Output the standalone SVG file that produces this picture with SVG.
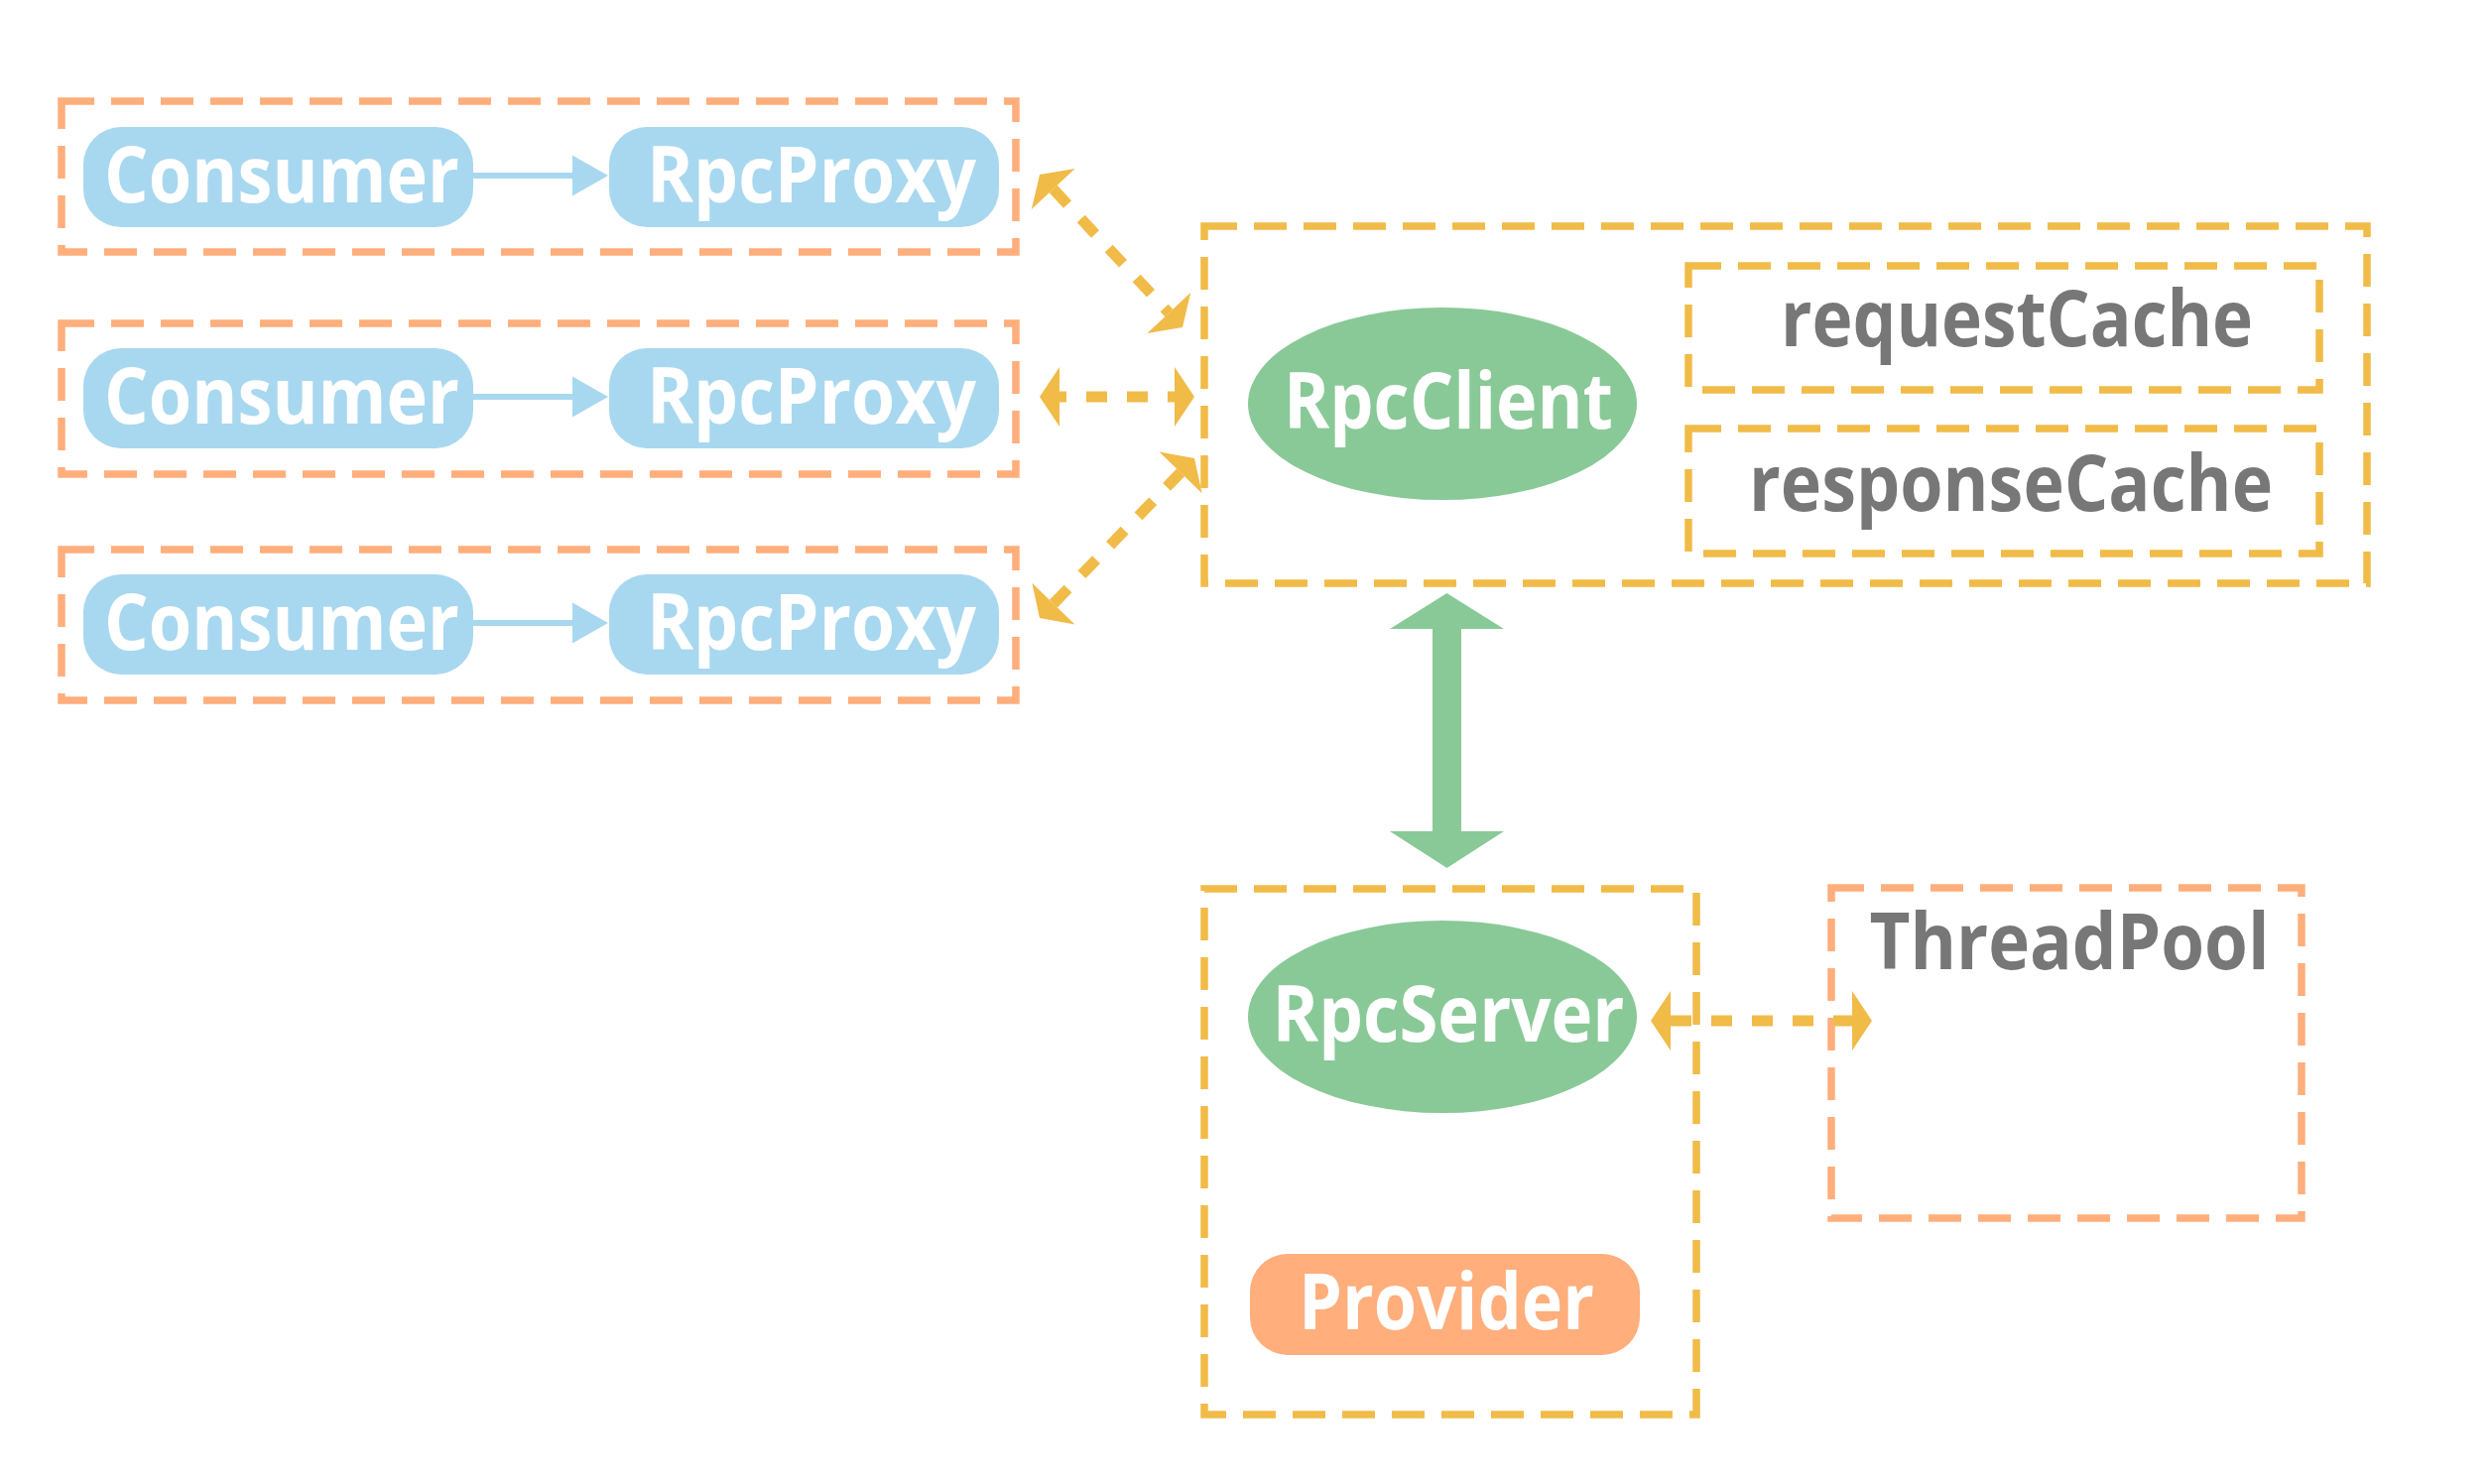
<svg xmlns="http://www.w3.org/2000/svg" width="2512" height="1496" viewBox="0 0 2512 1496">
<defs>
<style>
.lbl{font-family:"Open Sans","Noto Sans","Liberation Sans",sans-serif;font-weight:700;font-size:78px;text-anchor:middle}
.w{fill:#ffffff}
.g{fill:#777777}
.obox{fill:none;stroke:#ffae7c;stroke-width:7.5;stroke-dasharray:33 17}
.ybox{fill:none;stroke:#f1bb48;stroke-width:7.5;stroke-dasharray:33 17}
.pill{fill:#a8d8ef}
.ylink{fill:none;stroke:#f1bb48;stroke-width:11;stroke-dasharray:21 20;marker-start:url(#yh);marker-end:url(#yh)}
.blink{fill:none;stroke:#a8d8ef;stroke-width:6;marker-end:url(#bh)}
</style>
<marker id="yh" markerUnits="userSpaceOnUse" markerWidth="24" markerHeight="64" viewBox="0 -32 22 64" refX="0" refY="0" orient="auto-start-reverse">
<path d="M0,-30 L20,0 L0,30 Z" fill="#f1bb48"/>
</marker>
<marker id="bh" markerUnits="userSpaceOnUse" markerWidth="40" markerHeight="44" viewBox="0 -22 38 44" refX="0" refY="0" orient="auto">
<path d="M0,-20.5 L36,0 L0,20.5 Z" fill="#a8d8ef"/>
</marker>
</defs>
<rect width="2512" height="1496" fill="#ffffff"/>

<g id="consumer-group-1">
<rect class="obox" x="62" y="102" width="962" height="152"/>
<g id="consumer-1"><rect class="pill" x="84" y="128" width="393" height="101" rx="38"/><text class="lbl w" x="284" y="204" textLength="358" lengthAdjust="spacingAndGlyphs">Consumer</text></g>
<g id="rpcproxy-1"><rect class="pill" x="614" y="128" width="393" height="101" rx="38"/><text class="lbl w" x="818" y="204" textLength="332" lengthAdjust="spacingAndGlyphs">RpcProxy</text></g>
</g>
<g id="consumer-group-2">
<rect class="obox" x="62" y="326" width="962" height="152"/>
<g id="consumer-2"><rect class="pill" x="84" y="351" width="393" height="101" rx="38"/><text class="lbl w" x="284" y="427" textLength="358" lengthAdjust="spacingAndGlyphs">Consumer</text></g>
<g id="rpcproxy-2"><rect class="pill" x="614" y="351" width="393" height="101" rx="38"/><text class="lbl w" x="818" y="427" textLength="332" lengthAdjust="spacingAndGlyphs">RpcProxy</text></g>
</g>
<g id="consumer-group-3">
<rect class="obox" x="62" y="554" width="962" height="152"/>
<g id="consumer-3"><rect class="pill" x="84" y="579" width="393" height="101" rx="38"/><text class="lbl w" x="284" y="655" textLength="358" lengthAdjust="spacingAndGlyphs">Consumer</text></g>
<g id="rpcproxy-3"><rect class="pill" x="614" y="579" width="393" height="101" rx="38"/><text class="lbl w" x="818" y="655" textLength="332" lengthAdjust="spacingAndGlyphs">RpcProxy</text></g>
</g>

<g id="rpcclient-group">
<rect class="ybox" x="1214" y="228" width="1172" height="360"/>
<g id="rpcclient"><ellipse cx="1454" cy="407" rx="196" ry="97" fill="#89c997"/><text class="lbl w" x="1460" y="432" textLength="332" lengthAdjust="spacingAndGlyphs">RpcClient</text></g>
<g id="requestCache"><rect class="ybox" x="1702" y="268" width="636" height="125"/><text class="lbl g" x="2033" y="349" textLength="476" lengthAdjust="spacingAndGlyphs">requestCache</text></g>
<g id="responseCache"><rect class="ybox" x="1702" y="432" width="636" height="126"/><text class="lbl g" x="2027" y="515" textLength="528" lengthAdjust="spacingAndGlyphs">responseCache</text></g>
</g>

<g id="rpcserver-group">
<rect class="ybox" x="1214" y="896" width="496" height="530"/>
<g id="rpcserver"><ellipse cx="1454" cy="1025" rx="196" ry="97" fill="#89c997"/><text class="lbl w" x="1460" y="1050" textLength="355" lengthAdjust="spacingAndGlyphs">RpcServer</text></g>
<g id="provider"><rect x="1260" y="1264" width="393" height="102" rx="38" fill="#ffae7c"/><text class="lbl w" x="1458" y="1340" textLength="298" lengthAdjust="spacingAndGlyphs">Provider</text></g>
</g>

<g id="threadpool">
<rect class="obox" x="1846" y="895" width="474" height="333"/>
<text class="lbl g" x="2086" y="977" textLength="403" lengthAdjust="spacingAndGlyphs">ThreadPool</text>
</g>

<g id="connectors">
<line class="blink" x1="477" y1="177" x2="577" y2="177"/>
<line class="blink" x1="477" y1="400" x2="577" y2="400"/>
<line class="blink" x1="477" y1="628" x2="577" y2="628"/>
<line class="ylink" x1="1061.7" y1="190.6" x2="1178.3" y2="315.4"/>
<line class="ylink" x1="1068" y1="400" x2="1184" y2="400" stroke-dashoffset="14"/>
<line class="ylink" x1="1061.9" y1="608.6" x2="1190.1" y2="476.4"/>
<line class="ylink" x1="1684" y1="1029" x2="1867" y2="1029"/>
<polygon points="1458.5,598 1516,634 1473,634 1473,838 1516,838 1458.5,875 1401,838 1444,838 1444,634 1401,634" fill="#89c997"/>
</g>
</svg>
